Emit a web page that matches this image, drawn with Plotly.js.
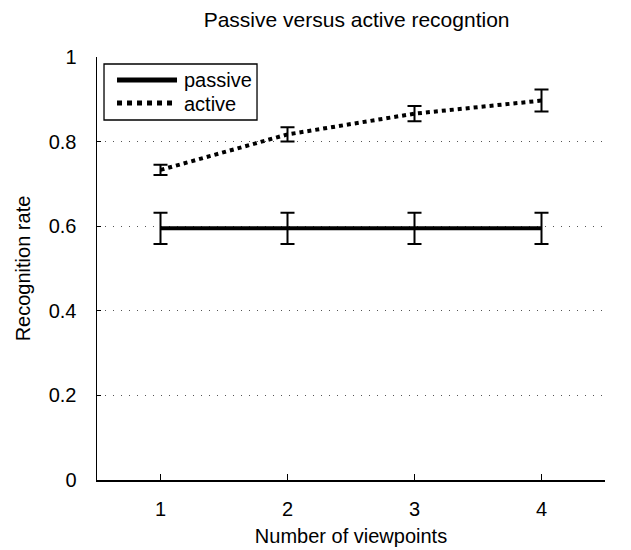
<!DOCTYPE html>
<html>
<head>
<meta charset="utf-8">
<script src="https://cdn.plot.ly/plotly-3.0.1.min.js"></script>
<style>body{margin:0;padding:0;background:#fff}#chart{width:631px;height:550px}</style>
</head>
<body>
<div id="chart"></div>
<script>
const viewpoints = [1, 2, 3, 4];
const passiveRate = [0.595, 0.595, 0.595, 0.595];
const passiveErr = [0.037, 0.037, 0.037, 0.037];
const activeRate = [0.733, 0.817, 0.866, 0.897];
const activeErr = [0.012, 0.017, 0.018, 0.026];
const seriesNames = ['passive', 'active'];

const traces = [
  {
    x: viewpoints, y: passiveRate, name: seriesNames[0], type: 'scatter', mode: 'lines',
    line: {color: '#000', width: 4}, showlegend: false,
    error_y: {type: 'data', array: passiveErr, visible: true, color: '#000', thickness: 2, width: 7}
  },
  {
    x: viewpoints, y: activeRate, name: seriesNames[1], type: 'scatter', mode: 'lines',
    line: {color: '#000', width: 4, dash: 'dot'}, showlegend: false,
    error_y: {type: 'data', array: activeErr, visible: true, color: '#000', thickness: 2, width: 7}
  }
];

const font = {family: 'Liberation Sans, Arial, sans-serif', color: '#000'};

// Hand-drawn legend box (paper coordinates) to get the long line samples
const legendRows = [
  {name: seriesNames[0], dash: 'solid', y: 0.9456, ty: 0.9456},
  {name: seriesNames[1], dash: 'dot', y: 0.8913, ty: 0.8885}
];
const shapes = [
  {type: 'rect', xref: 'paper', yref: 'paper', x0: 0.0138, x1: 0.3150, y0: 0.8511, y1: 0.9835,
   line: {color: '#000', width: 1.3}, fillcolor: '#fff', layer: 'above'}
];
const annotations = [];
legendRows.forEach(r => {
  shapes.push({type: 'line', xref: 'paper', yref: 'paper', x0: 0.0394, x1: 0.1575, y0: r.y, y1: r.y,
    line: {color: '#000', width: 5, dash: r.dash}, layer: 'above'});
  annotations.push({xref: 'paper', yref: 'paper', x: 0.1673, y: r.ty, xanchor: 'left', yanchor: 'middle',
    text: r.name, showarrow: false, font: Object.assign({size: 20}, font)});
});

const layout = {
  width: 631, height: 550,
  margin: {l: 97, r: 26, t: 57, b: 70},
  paper_bgcolor: '#fff', plot_bgcolor: '#fff',
  font: Object.assign({size: 20}, font),
  title: {text: 'Passive versus active recogntion', font: Object.assign({size: 21}, font), x: 0.511, xref: 'paper', y: 0.965, yref: 'container', xanchor: 'center', yanchor: 'middle'},
  xaxis: {
    range: [0.5, 4.5], tickvals: viewpoints, ticktext: ['1', '2', '3', '4'],
    showline: true, linecolor: '#000', linewidth: 1.5, mirror: false,
    ticks: 'inside', ticklen: 6, tickcolor: '#000', tickwidth: 1,
    showgrid: false, zeroline: false, ticklabelstandoff: 10,
    tickfont: Object.assign({size: 20}, font),
    title: {text: 'Number of viewpoints', font: Object.assign({size: 20}, font), standoff: 10}
  },
  yaxis: {
    range: [0, 1], tickvals: [0, 0.2, 0.4, 0.6, 0.8, 1], ticktext: ['0', '0.2', '0.4', '0.6', '0.8', '1'],
    showline: true, linecolor: '#000', linewidth: 1.5, mirror: false,
    ticks: 'inside', ticklen: 4, tickcolor: '#000', tickwidth: 1,
    showgrid: true, gridcolor: '#555', gridwidth: 1, griddash: '1px,7px',
    zeroline: false, ticklabelstandoff: 15,
    tickfont: Object.assign({size: 20}, font),
    title: {text: 'Recognition rate', font: Object.assign({size: 20}, font), standoff: 12}
  },
  showlegend: false,
  shapes: shapes,
  annotations: annotations
};

Plotly.newPlot('chart', traces, layout, {displayModeBar: false, staticPlot: true});
</script>
</body>
</html>
